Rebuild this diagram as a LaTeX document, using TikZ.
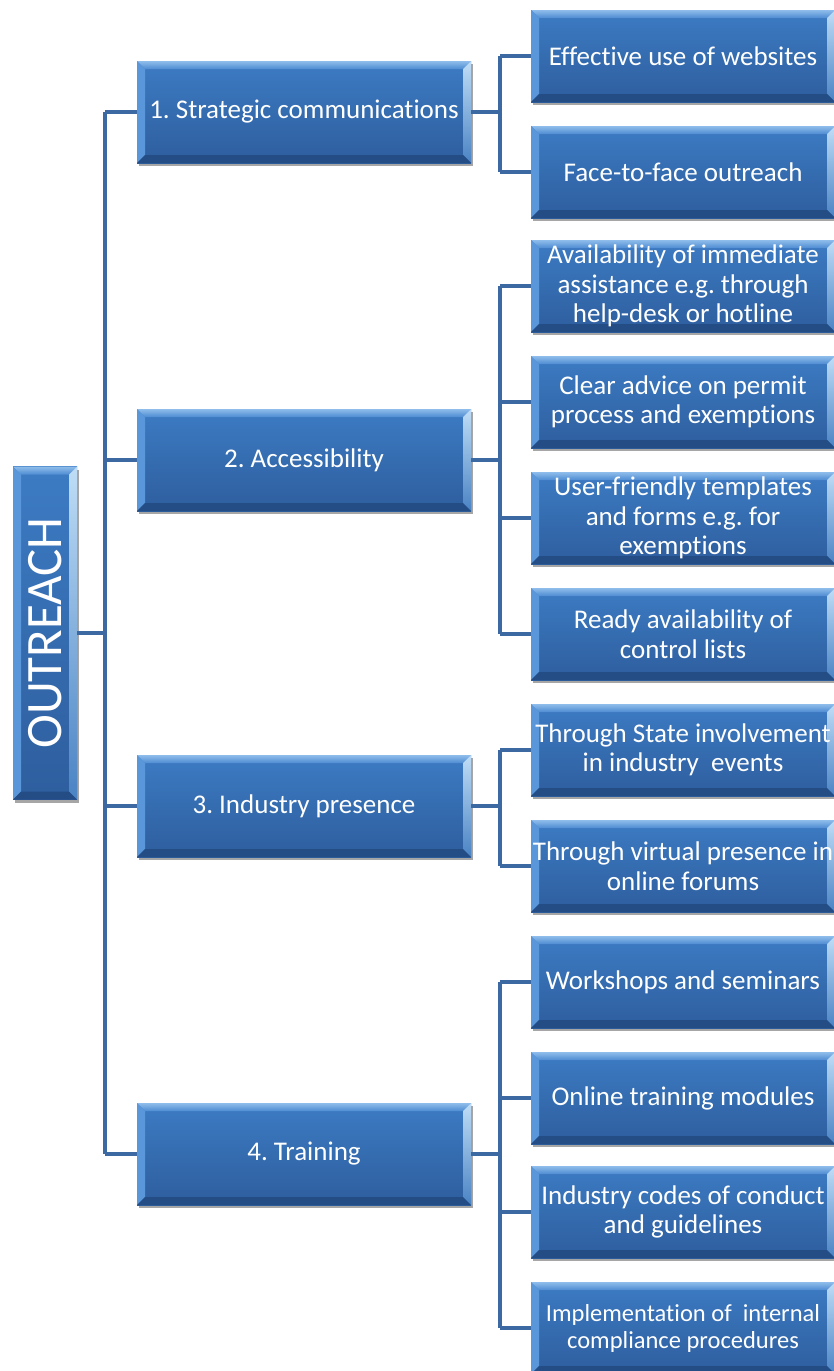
\documentclass[tikz,border=0pt]{standalone}
\usepackage{fontspec}
\setmainfont{Carlito}[Ligatures=NoCommon]
\usepackage{graphicx}
\usetikzlibrary{shadows}
\frenchspacing

\definecolor{faceT}{HTML}{3C7BC3}
\definecolor{faceB}{HTML}{2E5E9E}
\definecolor{bevTopA}{HTML}{8FBDEB}
\definecolor{bevTopB}{HTML}{4E8CD2}
\definecolor{bevLeft}{HTML}{5A97DA}
\definecolor{bevRightA}{HTML}{BFDDF6}
\definecolor{bevRightB}{HTML}{4A83C4}
\definecolor{bevBot}{HTML}{244D86}
\definecolor{connc}{HTML}{3D69A2}

\tikzset{
  bevel/.style={
    rectangle, inner sep=0pt, align=center, text=white,
    top color=faceT, bottom color=faceB,
    drop shadow={shadow xshift=2pt, shadow yshift=-3pt, opacity=0.35, fill=black},
    path picture={
      \coordinate (pnw) at (path picture bounding box.north west);
      \coordinate (pne) at (path picture bounding box.north east);
      \coordinate (psw) at (path picture bounding box.south west);
      \coordinate (pse) at (path picture bounding box.south east);
      % top edge
      \shade[top color=bevTopA, bottom color=bevTopB]
        (pnw) -- (pne) -- ([shift={(-8pt,-8pt)}]pne) -- ([shift={(8pt,-8pt)}]pnw) -- cycle;
      % left edge
      \fill[bevLeft]
        (pnw) -- ([shift={(8pt,-8pt)}]pnw) -- ([shift={(8pt,8pt)}]psw) -- (psw) -- cycle;
      % right edge
      \shade[top color=bevRightA, bottom color=bevRightB]
        (pne) -- (pse) -- ([shift={(-8pt,8pt)}]pse) -- ([shift={(-8pt,-8pt)}]pne) -- cycle;
      % bottom edge
      \fill[bevBot]
        (psw) -- (pse) -- ([shift={(-8pt,8pt)}]pse) -- ([shift={(8pt,8pt)}]psw) -- cycle;
    }
  },
  rootbox/.style={bevel, minimum width=64pt, minimum height=333pt,
    font=\fontsize{51}{57}\selectfont},
  mainbox/.style={bevel, minimum width=334pt, minimum height=102pt,
    font=\fontsize{27}{29.5}\selectfont},
  subbox/.style={bevel, minimum width=304pt, minimum height=92pt,
    font=\fontsize{27}{29.5}\selectfont},
  smallsub/.style={subbox, font=\fontsize{24.5}{27}\selectfont},
  conn/.style={connc, line width=4pt},
}

\begin{document}
\begin{tikzpicture}[x=1pt, y=-1pt]
\useasboundingbox (0,0) rectangle (834,1371);

% root
\node[rootbox] (root) at (45,633) {\rotatebox{90}{OUTREACH}};

% first level
\node[mainbox] (m1) at (304,112) {1. Strategic communications};
\node[mainbox] (m2) at (304,460) {2. Accessibility};
\node[mainbox] (m3) at (304,806) {3. Industry presence};
\node[mainbox] (m4) at (304,1154) {4. Training};

% second level
\node[subbox] (s1)  at (683,56)   {Effective use of websites};
\node[subbox] (s2)  at (683,172)  {Face-to-face outreach};
\node[subbox] (s3)  at (683,286)  {Availability of immediate\\assistance e.g. through\\help-desk or hotline};
\node[subbox] (s4)  at (683,402)  {Clear advice on permit\\process and exemptions};
\node[subbox] (s5)  at (683,518)  {User-friendly templates\\and forms e.g. for\\exemptions};
\node[subbox] (s6)  at (683,634)  {Ready availability of\\control lists};
\node[subbox] (s7)  at (683,750)  {Through State involvement\\in industry\ \ events};
\node[subbox] (s8)  at (683,866)  {Through virtual presence in\\online forums};
\node[subbox] (s9)  at (683,982)  {Workshops and seminars};
\node[subbox] (s10) at (683,1098) {Online training modules};
\node[subbox] (s11) at (683,1212) {Industry codes of conduct\\and guidelines};
\node[smallsub] (s12) at (683,1328) {Implementation of\ \ internal\\compliance procedures};

% trunk lines
\coordinate (tr0) at (105,0);
\coordinate (tr1) at (500,0);

\draw[conn] (root.east) -- (root.east -| tr0);
\draw[conn] (m1.west -| tr0) -- (m4.west -| tr0);
\foreach \m in {m1,m2,m3,m4}
  \draw[conn] (\m.west -| tr0) -- (\m.west);

\draw[conn] (s1.west -| tr1) -- (s2.west -| tr1);
\draw[conn] (s3.west -| tr1) -- (s6.west -| tr1);
\draw[conn] (s7.west -| tr1) -- (s8.west -| tr1);
\draw[conn] (s9.west -| tr1) -- (s12.west -| tr1);

\draw[conn] (m1.east) -- (m1.east -| tr1);
\draw[conn] (m2.east) -- (m2.east -| tr1);
\draw[conn] (m3.east) -- (m3.east -| tr1);
\draw[conn] (m4.east) -- (m4.east -| tr1);

\foreach \s in {s1,s2,s3,s4,s5,s6,s7,s8,s9,s10,s11,s12}
  \draw[conn] (\s.west -| tr1) -- (\s.west);
\end{tikzpicture}
\end{document}
